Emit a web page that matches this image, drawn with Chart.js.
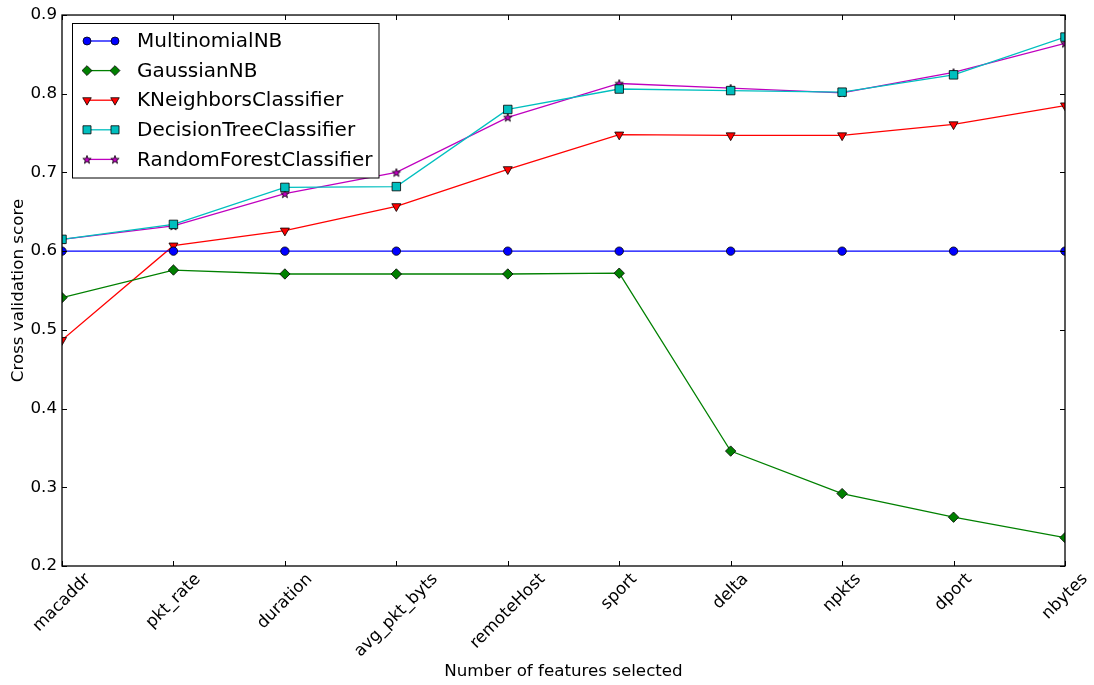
<!DOCTYPE html>
<html>
<head>
<meta charset="utf-8">
<script src="https://cdn.jsdelivr.net/npm/chart.js@4.4.0/dist/chart.umd.min.js"></script>
<style>
html, body { margin: 0; padding: 0; background: #fff; }
#wrap { width: 1094px; height: 685px; position: relative; }
</style>
</head>
<body>
<div id="wrap"><canvas id="chart"></canvas></div>
<script>
const features = ['macaddr', 'pkt_rate', 'duration', 'avg_pkt_byts', 'remoteHost', 'sport', 'delta', 'npkts', 'dport', 'nbytes'];
const multinomialNB = [0.600, 0.600, 0.600, 0.600, 0.600, 0.600, 0.600, 0.600, 0.600, 0.600];
const gaussianNB = [0.541, 0.576, 0.571, 0.571, 0.571, 0.572, 0.346, 0.292, 0.262, 0.236];
const kNeighbors = [0.487, 0.607, 0.626, 0.657, 0.704, 0.748, 0.747, 0.747, 0.761, 0.785];
const decisionTree = [0.615, 0.634, 0.681, 0.682, 0.780, 0.806, 0.804, 0.802, 0.824, 0.872];
const randomForest = [0.615, 0.632, 0.673, 0.700, 0.770, 0.813, 0.807, 0.801, 0.827, 0.864];
const yTicks = [0.2, 0.3, 0.4, 0.5, 0.6, 0.7, 0.8, 0.9];

const FONT = '"DejaVu Sans", sans-serif';

function makeStar(fill) {
	const c = document.createElement('canvas');
	const s = 12;
	c.width = s;
	c.height = s;
	const g = c.getContext('2d');
	g.beginPath();
	for (let k = 0; k < 10; k++) {
		const r = k % 2 ? 1.8 : 4.4;
		const ang = -Math.PI / 2 + k * Math.PI / 5;
		g.lineTo(s / 2 + r * Math.cos(ang), s / 2 + 0.4 + r * Math.sin(ang));
	}
	g.closePath();
	g.fillStyle = fill;
	g.fill();
	g.lineWidth = 0.8;
	g.strokeStyle = '#000';
	g.stroke();
	return c;
}

const series = [
	{ label: 'MultinomialNB', data: multinomialNB, color: '#0000ff', style: 'circle', radius: 4.2, rotation: 0 },
	{ label: 'GaussianNB', data: gaussianNB, color: '#008000', style: 'rectRot', radius: 5.2, rotation: 0 },
	{ label: 'KNeighborsClassifier', data: kNeighbors, color: '#ff0000', style: 'triangle', radius: 5.2, rotation: 180 },
	{ label: 'DecisionTreeClassifier', data: decisionTree, color: '#00bfbf', style: 'rect', radius: 6, rotation: 0 },
	{ label: 'RandomForestClassifier', data: randomForest, color: '#bf00bf', style: makeStar('#bf00bf'), radius: 5, rotation: 0 },
];

const datasets = series.map(s => ({
	label: s.label,
	data: s.data,
	borderColor: s.color,
	backgroundColor: s.color,
	borderWidth: 1.3,
	pointStyle: s.style,
	pointRadius: s.radius,
	pointRotation: s.rotation,
	pointBackgroundColor: s.color,
	pointBorderColor: '#000',
	pointBorderWidth: 0.8,
	tension: 0,
	clip: 0,
}));

const axesPlugin = {
	id: 'axesPlugin',
	afterDatasetsDraw(chart) {
		const { ctx, chartArea: a, scales: { x, y } } = chart;
		ctx.save();
		ctx.strokeStyle = '#000';
		ctx.lineWidth = 1;
		ctx.beginPath();
		features.forEach((f, i) => {
			const px = Math.round(x.getPixelForValue(i)) + 0.5;
			ctx.moveTo(px, a.bottom);
			ctx.lineTo(px, a.bottom - 5);
			ctx.moveTo(px, a.top);
			ctx.lineTo(px, a.top + 5);
		});
		yTicks.forEach(v => {
			const py = Math.round(y.getPixelForValue(v)) + 0.5;
			ctx.moveTo(a.left, py);
			ctx.lineTo(a.left + 5, py);
			ctx.moveTo(a.right, py);
			ctx.lineTo(a.right - 5, py);
		});
		ctx.stroke();
		ctx.lineWidth = 1.3;
		ctx.strokeRect(a.left, a.top, a.width, a.height);

		// rotated category labels, centred under each tick
		ctx.fillStyle = '#000';
		ctx.font = '16.7px ' + FONT;
		ctx.textAlign = 'center';
		ctx.textBaseline = 'middle';
		features.forEach((f, i) => {
			const px = x.getPixelForValue(i);
			const w = ctx.measureText(f).width;
			const side = (w + 13) * Math.SQRT1_2;
			ctx.save();
			ctx.translate(px, a.bottom + 6 + side / 2);
			ctx.rotate(-Math.PI / 4);
			ctx.fillText(f, 0, 0);
			ctx.restore();
		});
		ctx.restore();
	},
	afterDraw(chart) {
		const { ctx } = chart;
		ctx.save();
		ctx.fillStyle = '#fff';
		ctx.fillRect(72.5, 23.5, 306.5, 154.5);
		ctx.strokeStyle = '#000';
		ctx.lineWidth = 1;
		ctx.strokeRect(72.5, 23.5, 306.5, 154.5);
		ctx.font = '20px ' + FONT;
		ctx.textBaseline = 'middle';
		ctx.textAlign = 'left';
		series.forEach((s, i) => {
			const yy = 41 + i * 29.6;
			ctx.strokeStyle = s.color;
			ctx.lineWidth = 1.3;
			ctx.beginPath();
			ctx.moveTo(87, yy);
			ctx.lineTo(115, yy);
			ctx.stroke();
			[87, 115].forEach(xx => {
				ctx.fillStyle = s.color;
				ctx.strokeStyle = '#000';
				ctx.lineWidth = 0.8;
				Chart.helpers.drawPoint(ctx, {
					pointStyle: s.style,
					radius: s.radius * 0.95,
					rotation: s.rotation,
					borderWidth: 0.8,
				}, xx, yy);
			});
			ctx.fillStyle = '#000';
			ctx.fillText(s.label, 137, yy + 1);
		});
		ctx.restore();
	},
};

new Chart(document.getElementById('chart'), {
	type: 'line',
	data: { labels: features, datasets },
	options: {
		responsive: true,
		maintainAspectRatio: false,
		animation: false,
		layout: { padding: { top: 13, right: 29, left: 0, bottom: 0 } },
		plugins: { legend: { display: false }, tooltip: { enabled: false } },
		scales: {
			x: {
				type: 'category',
				offset: false,
				grid: { display: false, drawTicks: false },
				border: { display: false },
				ticks: { display: false },
				title: {
					display: true,
					text: 'Number of features selected',
					color: '#000',
					font: { family: FONT, size: 16.7 },
					padding: { top: 0, bottom: 3 },
				},
				afterFit(scale) { scale.height = 119; },
			},
			y: {
				min: 0.2,
				max: 0.9,
				grid: { display: false, drawTicks: false },
				border: { display: false },
				afterBuildTicks(scale) { scale.ticks = yTicks.map(v => ({ value: v })); },
				ticks: {
					padding: 5,
					color: '#000',
					font: { family: FONT, size: 16.7 },
					callback: v => Number(v).toFixed(1),
				},
				title: {
					display: true,
					text: 'Cross validation score',
					color: '#000',
					font: { family: FONT, size: 16.7 },
					padding: { top: 9, bottom: 0 },
				},
				afterFit(scale) { scale.width = 62; },
			},
		},
	},
	plugins: [axesPlugin],
});
</script>
</body>
</html>
